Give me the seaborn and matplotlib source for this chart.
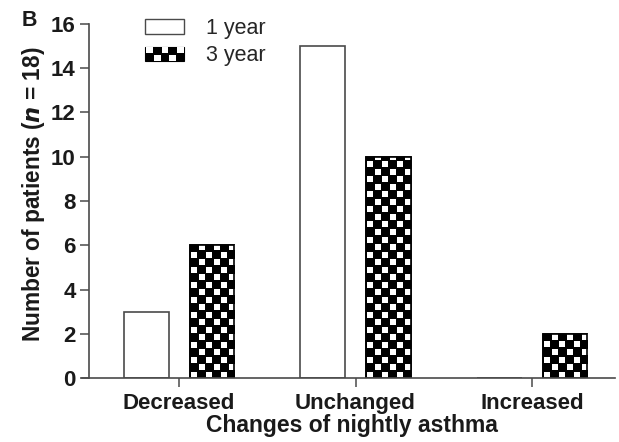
import numpy as np
import pandas as pd
import matplotlib
matplotlib.use("Agg")
import matplotlib.pyplot as plt
from matplotlib.patches import Rectangle, Patch
from matplotlib.legend_handler import HandlerPatch
import seaborn as sns

# Data
categories = ["Decreased", "Unchanged", "Increased"]
one_year = [3, 15, 0]
three_year = [6, 10, 2]
series_names = ["1 year", "3 year"]
y_ticks = [0, 2, 4, 6, 8, 10, 12, 14, 16]

df = pd.DataFrame({
    "change": categories * 2,
    "period": [series_names[0]] * 3 + [series_names[1]] * 3,
    "count": one_year + three_year,
})

sns.set_theme(style="ticks")
plt.rcParams["font.family"] = ["Liberation Sans", "DejaVu Sans"]

fig = plt.figure(figsize=(6.19, 4.42), dpi=100)
ax = fig.add_axes([89 / 619, 1 - 378 / 442, (615 - 89) / 619, (378 - 24) / 442])

sns.barplot(data=df, x="change", y="count", hue="period", order=categories,
            hue_order=series_names, palette=["white", "black"],
            width=0.744, gap=0.32, edgecolor="#4a4a4a", linewidth=1.2,
            saturation=1, legend=False, ax=ax)

ax.set_xlim(-0.51, 2.47)
ax.set_ylim(0, 16)


def checker(nrows, ncols, sub=5, white=4):
    """Checkerboard whose white squares are a bit smaller than the black ones."""
    board = np.zeros((nrows * sub, ncols * sub))
    for r in range(nrows):
        for c in range(ncols):
            if (r + c) % 2 == 0:
                board[r * sub:r * sub + white, c * sub + (sub - white):(c + 1) * sub] = 1
    return board


# Checkerboard fill for the 3-year bars
sq_px = 7.5
px_per_unit = ax.transData.transform((0, 1))[1] - ax.transData.transform((0, 0))[1]
dy = sq_px / px_per_unit
for patch in ax.containers[1].patches:
    patch.set_edgecolor("black")
    x0, w, h = patch.get_x(), patch.get_width(), patch.get_height()
    if h <= 0:
        continue
    ncols = 6
    nrows = int(np.ceil(h / dy)) + 1
    board = checker(nrows, ncols)
    im = ax.imshow(board, cmap="gray", vmin=0, vmax=1, origin="lower",
                   extent=(x0, x0 + w, 0, nrows * dy), aspect="auto",
                   interpolation="nearest", zorder=patch.get_zorder() + 0.1)
    im.set_clip_path(patch)
    outline = Rectangle((x0, 0), w, h, fill=False, edgecolor="black",
                        linewidth=1.2, zorder=patch.get_zorder() + 0.2)
    ax.add_patch(outline)

ax.set_xlim(-0.51, 2.47)
ax.set_ylim(0, 16)
ax.set_yticks(y_ticks)

sns.despine(ax=ax)
for side in ["left", "bottom"]:
    ax.spines[side].set_color("#4a4a4a")
    ax.spines[side].set_linewidth(1.2)
ax.spines["bottom"].set_bounds(-0.55, 2.47)
ax.spines["left"].set_bounds(0, 16)

ax.tick_params(axis="both", direction="out", length=6.5, width=1.1,
               color="#4a4a4a", labelsize=16)
for lbl in ax.get_xticklabels() + ax.get_yticklabels():
    lbl.set_fontweight("bold")
    lbl.set_color("#1a1a1a")
ax.tick_params(axis="x", pad=4)
ax.tick_params(axis="y", pad=3)

ax.set_xlabel("Changes of nightly asthma", fontsize=16.5, fontweight="bold",
              color="#1a1a1a", labelpad=0)
ax.set_ylabel(r"Number of patients ($\boldsymbol{n}$ = 18)", fontsize=16.3,
              fontweight="bold", color="#1a1a1a")
ax.yaxis.set_label_coords(-0.08, 0.52)


class CheckerHandler(HandlerPatch):
    def create_artists(self, legend, orig_handle, xdescent, ydescent,
                       width, height, fontsize, trans):
        arts = [Rectangle((-xdescent, -ydescent), width, height,
                          facecolor="black", edgecolor="black", lw=0.8,
                          transform=trans)]
        nc, nr = 5, 2
        cw, ch = width / nc, height / nr
        for r in range(nr):
            for c in range(nc):
                if (r + c) % 2 == 0:
                    arts.append(Rectangle((-xdescent + c * cw + 0.15 * cw,
                                           -ydescent + (nr - 1 - r) * ch + 0.1 * ch),
                                          0.85 * cw, 0.8 * ch, facecolor="white",
                                          edgecolor="none", transform=trans))
        return arts


h1 = Patch(facecolor="white", edgecolor="#4a4a4a", linewidth=1.0)
h2 = Patch(facecolor="black", edgecolor="black")
fig.legend([h1, h2], series_names, loc="upper left",
           bbox_to_anchor=(145 / 619, 1 - 18 / 442), frameon=False,
           fontsize=15.5, handlelength=1.8, handleheight=0.68,
           handletextpad=1.05, labelspacing=0.3, borderpad=0, borderaxespad=0,
           handler_map={h2: CheckerHandler()})

fig.text(22 / 619, 1 - 26 / 442, "B", fontsize=15.5, fontweight="bold",
         color="#1a1a1a")

fig.savefig("out.png", dpi=100, facecolor="white")
